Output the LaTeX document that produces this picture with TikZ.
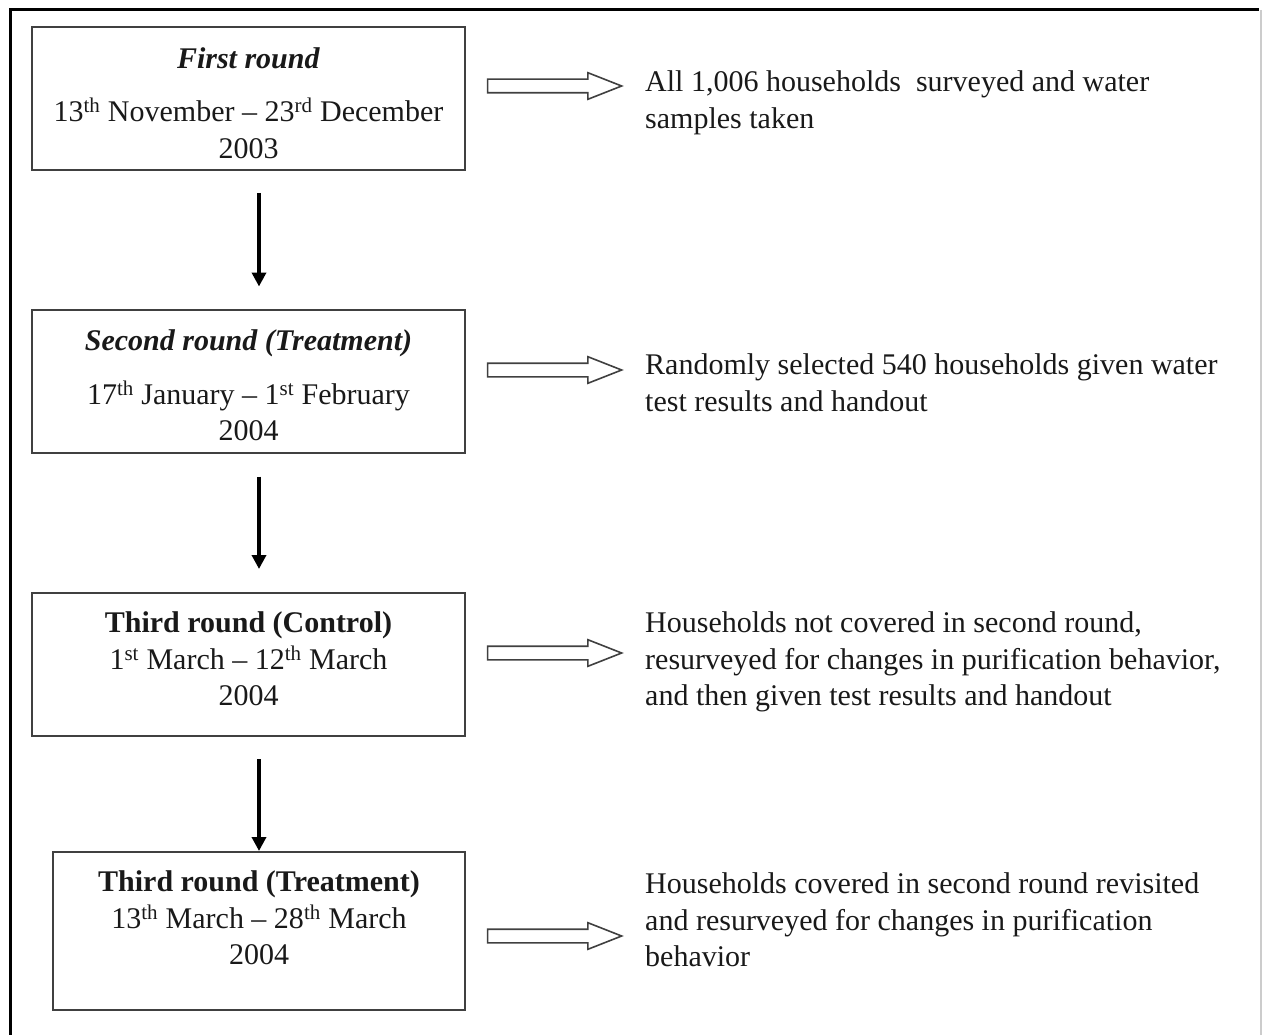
\documentclass[tikz,border=0pt]{standalone}
\usepackage{fontspec}
\setmainfont{Liberation Serif}
\usetikzlibrary{arrows.meta}
\usetikzlibrary{shapes.arrows}

\begin{document}
\begin{tikzpicture}[x=1pt,y=-1pt,
    every node/.style={font=\fontsize{30}{36.5}\selectfont,text=black!90},
    box/.style={draw=black!75,line width=2pt,inner sep=0pt,align=center,
        minimum width=433pt,minimum height=143pt},
    note/.style={anchor=west,align=left,inner sep=0pt},
    hollow/.style={single arrow,draw=black!75,line width=1.6pt,fill=white,
        inner xsep=0pt,inner ysep=6pt,minimum height=134pt,
        single arrow head extend=6.5pt,single arrow tip angle=43},
    down/.style={line width=4pt,-{Triangle[length=14pt,width=14pt]}}]

\useasboundingbox (0,0) rectangle (1263,1035);

% cadre
\draw[line width=3pt] (10,1035) -- (10,10) -- (1259,10);
\draw[black!20,line width=1.5pt] (1261,10) -- (1261,1035);

% les quatre tours
\node[box] (b1) at (248.5,98.5)
    {\rule{0pt}{30pt}\textbf{\textit{First round}}\\[17pt]
     13\textsuperscript{th} November -- 23\textsuperscript{rd} December\\2003};
\node[box] (b2) at (248.5,381)
    {\rule{0pt}{30pt}\textbf{\textit{Second round (Treatment)}}\\[17pt]
     17\textsuperscript{th} January -- 1\textsuperscript{st} February\\2004};
\node[box] (b3) at (248.5,664.5)
    {\textbf{Third round (Control)}\\
     1\textsuperscript{st} March -- 12\textsuperscript{th} March\\2004\rule[-11pt]{0pt}{0pt}};
\node[box,minimum width=412pt,minimum height=158pt] (b4) at (259,931)
    {\textbf{Third round (Treatment)}\\
     13\textsuperscript{th} March -- 28\textsuperscript{th} March\\2004\rule[-26pt]{0pt}{0pt}};

% textes
\node[note] (t1) at (645,103)
    {All 1,006 households\ \ surveyed and water\\samples taken};
\node[note] (t2) at (645,382.5)
    {Randomly selected 540 households given water\\test results and handout};
\node[note] (t3) at (645,662)
    {Households not covered in second round,\\resurveyed for changes in purification behavior,\\and then given test results and handout};
\node[note] (t4) at (645,920)
    {Households covered in second round revisited\\and resurveyed for changes in purification\\behavior};

% fleches creuses
\node[hollow] (a1) at (546,86) {};
\node[hollow] (a2) at (546,370) {};
\node[hollow] (a3) at (546,653) {};
\node[hollow] (a4) at (546,936) {};

% fleches vers le bas
\draw[down] ([xshift=10.5pt,yshift=-22pt]b1.south) -- ([xshift=10.5pt,yshift=22pt]b2.north);
\draw[down] ([xshift=10.5pt,yshift=-23pt]b2.south) -- ([xshift=10.5pt,yshift=23pt]b3.north);
\draw[down] ([xshift=10.5pt,yshift=-22pt]b3.south) -- (b4.north);

\end{tikzpicture}
\end{document}
